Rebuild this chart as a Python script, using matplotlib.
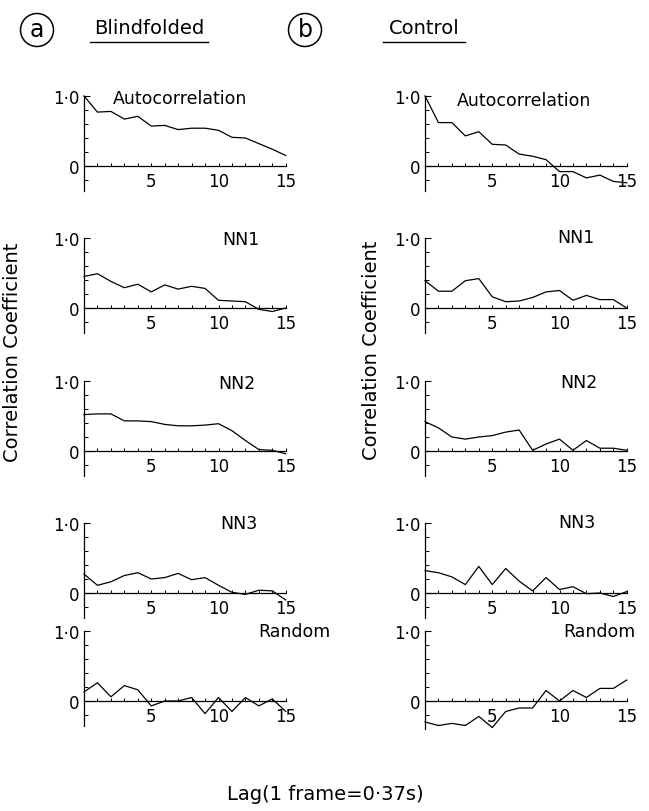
import matplotlib
matplotlib.use('Agg')
import matplotlib.pyplot as plt
from matplotlib.lines import Line2D
from matplotlib.patches import Ellipse

lags = list(range(16))

# (a) Blindfolded
blind_auto = [1.0, 0.77, 0.78, 0.67, 0.71, 0.57, 0.58, 0.52, 0.54, 0.54, 0.51, 0.41, 0.40, 0.32, 0.24, 0.15]
blind_nn1 = [0.45, 0.49, 0.38, 0.29, 0.34, 0.23, 0.33, 0.27, 0.31, 0.28, 0.11, 0.10, 0.09, -0.02, -0.05, 0.0]
blind_nn2 = [0.52, 0.53, 0.53, 0.43, 0.43, 0.42, 0.38, 0.36, 0.36, 0.37, 0.39, 0.29, 0.15, 0.02, 0.01, -0.04]
blind_nn3 = [0.27, 0.11, 0.16, 0.25, 0.29, 0.20, 0.22, 0.28, 0.19, 0.22, 0.11, 0.01, -0.02, 0.04, 0.03, -0.10]
blind_rand = [0.13, 0.26, 0.06, 0.22, 0.16, -0.07, 0.0, 0.0, 0.05, -0.18, 0.05, -0.15, 0.05, -0.07, 0.03, -0.15]

# (b) Control
ctrl_auto = [1.0, 0.62, 0.62, 0.43, 0.49, 0.31, 0.30, 0.17, 0.14, 0.09, -0.08, -0.08, -0.17, -0.13, -0.22, -0.24]
ctrl_nn1 = [0.39, 0.24, 0.24, 0.39, 0.42, 0.16, 0.09, 0.10, 0.15, 0.23, 0.25, 0.11, 0.18, 0.12, 0.12, 0.0]
ctrl_nn2 = [0.42, 0.33, 0.20, 0.17, 0.20, 0.22, 0.27, 0.30, 0.01, 0.10, 0.17, 0.01, 0.15, 0.04, 0.04, 0.01]
ctrl_nn3 = [0.32, 0.29, 0.23, 0.12, 0.38, 0.12, 0.35, 0.17, 0.03, 0.22, 0.05, 0.09, -0.01, 0.0, -0.05, 0.02]
ctrl_rand = [-0.30, -0.35, -0.32, -0.35, -0.22, -0.38, -0.15, -0.10, -0.10, 0.15, 0.0, 0.15, 0.05, 0.18, 0.18, 0.30]

W, H = 649, 812
fig = plt.figure(figsize=(W / 100, H / 100), dpi=100)
plt.rcParams['font.family'] = 'DejaVu Sans'


def fx(px):
    return px / W


def fy(py):
    return 1 - py / H


def panel(x0, ytop, vals, title, tx, ty, unit=70, ymin=-0.35):
    # ytop = pixel row of the 1.0 level, unit = pixels per 1.0
    ax = fig.add_axes([fx(x0), fy(ytop + (1 - ymin) * unit), 15 * 13.45 / W, (1 - ymin) * unit / H])
    ax.set_xlim(0, 15)
    ax.set_ylim(ymin, 1.0)
    ax.patch.set_visible(False)
    ax.plot(lags, vals, color='k', lw=0.9, clip_on=False)
    for s in ['top', 'right']:
        ax.spines[s].set_visible(False)
    ax.spines['bottom'].set_position(('data', 0))
    ax.spines['left'].set_linewidth(0.9)
    ax.spines['bottom'].set_linewidth(0.9)
    ax.set_yticks([0, 1.0])
    ax.set_yticklabels(['0', '1·0'])
    ax.set_yticks([-0.2, 0.2, 0.4, 0.6, 0.8], minor=True)
    ax.set_xticks([5, 10, 15])
    ax.set_xticks([i for i in lags if i % 5], minor=True)
    ax.tick_params(axis='y', which='major', direction='in', length=4, width=0.8, labelsize=12, pad=3)
    ax.tick_params(axis='y', which='minor', direction='in', length=3, width=0.7)
    ax.tick_params(axis='x', which='both', direction='in', length=2, width=0.7, labelsize=12, pad=4)
    fig.text(fx(tx), fy(ty), title, fontsize=12.5, ha='left', va='center')
    return ax


rows = [97, 239, 382, 524, 632]
left_x, right_x = 84, 425

panel(left_x, rows[0], blind_auto, 'Autocorrelation', 113, 99)
panel(left_x, rows[1], blind_nn1, 'NN1', 222, 240)
panel(left_x, rows[2], blind_nn2, 'NN2', 218, 384)
panel(left_x, rows[3], blind_nn3, 'NN3', 220, 524)
panel(left_x, rows[4], blind_rand, 'Random', 258, 632)

panel(right_x, rows[0], ctrl_auto, 'Autocorrelation', 457, 101)
panel(right_x, rows[1], ctrl_nn1, 'NN1', 557, 238)
panel(right_x, rows[2], ctrl_nn2, 'NN2', 560, 383)
panel(right_x, rows[3], ctrl_nn3, 'NN3', 558, 523)
panel(right_x, rows[4], ctrl_rand, 'Random', 563, 632, ymin=-0.4)

# headers: circled panel letters and underlined group names
for cx, letter in [(37, 'a'), (305, 'b')]:
    fig.text(fx(cx), fy(30), letter, fontsize=17, ha='center', va='center')
    fig.add_artist(Ellipse((fx(cx), fy(31)), 33 / W, 33 / H, transform=fig.transFigure,
                           fill=False, lw=1.1, color='k'))
for x0, x1, label in [(90, 208, 'Blindfolded'), (383, 465, 'Control')]:
    fig.text(fx((x0 + x1) / 2), fy(28), label, fontsize=14, ha='center', va='center')
    fig.add_artist(Line2D([fx(x0), fx(x1)], [fy(43), fy(43)], color='k', lw=1.0))

fig.text(fx(13), fy(352), 'Correlation Coefficient', fontsize=14, rotation=90,
         ha='center', va='center')
fig.text(fx(372), fy(350), 'Correlation Coefficient', fontsize=14, rotation=90,
         ha='center', va='center')
fig.text(fx(325), fy(795), 'Lag(1 frame=0·37s)', fontsize=14, ha='center', va='center')

fig.savefig('out.png', dpi=100)
